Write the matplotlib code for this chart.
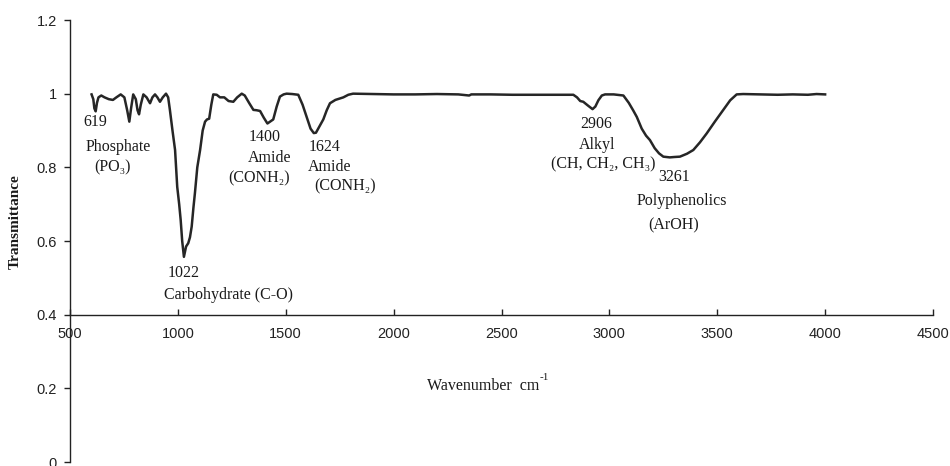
import numpy as np
import matplotlib as mpl
mpl.use('Agg')
from matplotlib import pyplot as plt

# FTIR spectrum
wavenumber = [600, 608, 613, 619, 625, 632, 645, 660, 680, 699, 715, 735, 752, 765, 775, 783,
              793, 805, 813, 820, 828, 840, 855, 871, 882, 894, 905, 917, 930, 945, 955, 963,
              975, 987, 997, 1006, 1013, 1020, 1028, 1038, 1048, 1056, 1064, 1072, 1079, 1090,
              1103, 1115, 1126, 1135, 1145, 1155, 1164, 1180, 1195, 1215, 1235, 1257, 1275, 1296,
              1310, 1330, 1350, 1365, 1381, 1398, 1415, 1430, 1442, 1458, 1473, 1490, 1504, 1530,
              1558, 1578, 1597, 1615, 1630, 1640, 1655, 1674, 1690, 1705, 1730, 1767, 1790, 1812,
              1900, 2000, 2100, 2200, 2300, 2350, 2360, 2450, 2550, 2650, 2750, 2833,
              2850, 2865, 2879, 2900, 2922, 2935, 2949, 2965, 2980, 3020, 3065, 3090, 3110, 3127,
              3150, 3170, 3188, 3210, 3230, 3250, 3280, 3300, 3327, 3360, 3389, 3420, 3451, 3490,
              3528, 3560, 3590, 3620, 3700, 3780, 3850, 3920, 3960, 4000]
transmittance = [0.998, 0.985, 0.96, 0.952, 0.975, 0.99, 0.995, 0.99, 0.985, 0.983, 0.99, 0.998, 0.99, 0.955, 0.924, 0.96,
                 0.998, 0.985, 0.955, 0.944, 0.97, 0.998, 0.99, 0.974, 0.99, 0.998, 0.99, 0.978, 0.99, 1.0, 0.99, 0.956,
                 0.9, 0.847, 0.747, 0.7, 0.657, 0.6, 0.557, 0.585, 0.594, 0.61, 0.639, 0.69, 0.73, 0.8,
                 0.847, 0.9, 0.924, 0.93, 0.932, 0.97, 0.998, 0.997, 0.99, 0.99, 0.98, 0.978, 0.99, 1.0,
                 0.995, 0.975, 0.956, 0.955, 0.953, 0.935, 0.919, 0.925, 0.93, 0.965, 0.992, 0.998, 1.0, 0.999,
                 0.997, 0.97, 0.937, 0.905, 0.893, 0.894, 0.91, 0.93, 0.955, 0.974, 0.983, 0.99, 0.997, 1.0,
                 0.999, 0.998, 0.998, 0.999, 0.998, 0.995, 0.998, 0.998, 0.997, 0.997, 0.997, 0.997,
                 0.99, 0.98, 0.978, 0.968, 0.958, 0.965, 0.982, 0.995, 0.998, 0.998, 0.995, 0.975, 0.955, 0.937,
                 0.905, 0.886, 0.874, 0.852, 0.838, 0.829, 0.827, 0.828, 0.829, 0.837, 0.847, 0.868, 0.892, 0.925,
                 0.956, 0.982, 0.998, 0.999, 0.998, 0.997, 0.998, 0.997, 0.999, 0.998]

# annotation texts: (text, x, y)
labels = [
    ("619", 618, 0.923), ("Phosphate", 722, 0.855), ("(PO\u2083)", 699, 0.800),
    ("1022", 1025, 0.512), ("Carbohydrate (C-O)", 1234, 0.453),
    ("1400", 1404, 0.881), ("Amide", 1424, 0.824), ("(CONH\u2082)", 1376, 0.770),
    ("1624", 1682, 0.856), ("Amide", 1705, 0.802), ("(CONH\u2082)", 1775, 0.747),
    ("2906", 2941, 0.919), ("Alkyl", 2941, 0.861), ("(CH, CH\u2082, CH\u2083)", 2970, 0.809),
    ("3261", 3298, 0.773), ("Polyphenolics", 3338, 0.709), ("(ArOH)", 3299, 0.643),
]

serif = ['Liberation Serif', 'DejaVu Serif']
plt.rcParams['font.family'] = ['Liberation Sans', 'DejaVu Sans']

fig = plt.figure(figsize=(9.5, 4.66), dpi=100)
ax = fig.add_axes([70/950, 4/466, 863/950, 442/466])
ax.plot(wavenumber, transmittance, color='#262626', lw=1.8, solid_joinstyle='round')

ax.set_xlim(500, 4500)
ax.set_ylim(0, 1.2)
ax.set_xticks(np.arange(500, 4501, 500))
ax.set_yticks([0, 0.2, 0.4, 0.6, 0.8, 1.0, 1.2])
ax.set_yticklabels(["0", "0.2", "0.4", "0.6", "0.8", "1", "1.2"])

ax.spines['top'].set_visible(False)
ax.spines['right'].set_visible(False)
ax.spines['bottom'].set_position(('data', 0.4))
for s in ('left', 'bottom'):
    ax.spines[s].set_linewidth(1.0)
    ax.spines[s].set_color('#222222')
ax.tick_params(axis='x', direction='in', length=4, width=1.0, pad=9, labelsize=10.5, colors='#222222')
ax.tick_params(axis='y', direction='out', length=4.5, width=1.0, pad=5, labelsize=10.5, colors='#222222')

for txt, x, y in labels:
    ax.text(x, y, txt, ha='center', va='center', fontsize=11.5, family=serif, color='#1a1a1a')

# x axis title sits inside the plot, below the axis line
xl = ax.text(2415, 0.205, "Wavenumber  cm", ha='center', va='center',
             fontsize=11.5, family=serif, color='#1a1a1a')
ax.annotate("-1", xy=(1, 0.75), xycoords=xl, ha='left', va='bottom',
            fontsize=8, family=serif, color='#1a1a1a')
fig.text(15/950, 1 - 222/466, "Transmittance", rotation=90, ha='center', va='center',
         fontsize=11, fontweight='bold', family=serif, color='#1a1a1a')

plt.savefig("out.png", dpi=100)
